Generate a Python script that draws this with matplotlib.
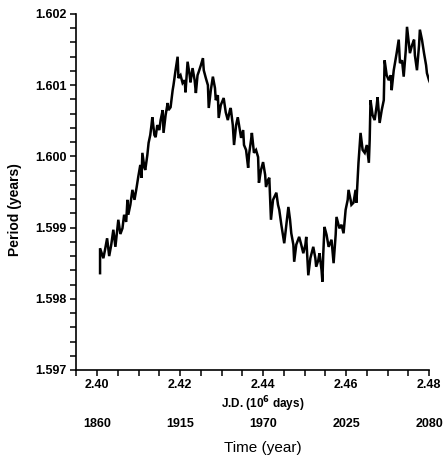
#!/usr/bin/env python3
"""Period of the orbit vs. Julian date, with calendar years underneath."""
import matplotlib
matplotlib.use("Agg")
import matplotlib.pyplot as plt
import matplotlib.transforms as mtransforms
from matplotlib.ticker import MultipleLocator

# (J.D. in 10^6 days, period in years)
jd = [
    2.4007, 2.4007, 2.4015, 2.4019, 2.4024, 2.4029, 2.4034, 2.4039, 2.4044, 2.4048,
    2.4051, 2.4056, 2.4061, 2.4065, 2.4070, 2.4073, 2.4075, 2.4080, 2.4085, 2.4090,
    2.4095, 2.4099, 2.4104, 2.4107, 2.4109, 2.4114, 2.4116, 2.4121, 2.4124, 2.4128,
    2.4131, 2.4133, 2.4138, 2.4141, 2.4145, 2.4150, 2.4153, 2.4158, 2.4160, 2.4165,
    2.4170, 2.4172, 2.4177,
    2.4182, 2.4184, 2.4189, 2.4194, 2.4196, 2.4201, 2.4206, 2.4211, 2.4213, 2.4218,
    2.4223, 2.4225, 2.4230, 2.4235, 2.4238, 2.4242, 2.4245, 2.4250, 2.4255, 2.4257,
    2.4262, 2.4267, 2.4269, 2.4274, 2.4279, 2.4284, 2.4286, 2.4291, 2.4293, 2.4298,
    2.4305, 2.4310, 2.4315, 2.4320, 2.4322, 2.4327, 2.4330, 2.4335, 2.4339, 2.4344,
    2.4347, 2.4352, 2.4354, 2.4359, 2.4364, 2.4366,
    2.4371, 2.4373, 2.4378, 2.4383, 2.4388, 2.4390, 2.4395, 2.4400, 2.4405, 2.4407,
    2.4412, 2.4415, 2.4419, 2.4424, 2.4432, 2.4436, 2.4439, 2.4444, 2.4451, 2.4456,
    2.4461, 2.4465, 2.4468, 2.4473, 2.4475, 2.4480, 2.4487, 2.4492, 2.4497, 2.4502,
    2.4504, 2.4509, 2.4514, 2.4521, 2.4526, 2.4528, 2.4533, 2.4536, 2.4541, 2.4543,
    2.4545, 2.4548, 2.4553, 2.4558, 2.4565, 2.4570, 2.4575, 2.4577, 2.4584, 2.4589,
    2.4594, 2.4599, 2.4604, 2.4606, 2.4611, 2.4613, 2.4618, 2.4623, 2.4625, 2.4630,
    2.4635, 2.4640, 2.4645, 2.4650, 2.4655, 2.4657, 2.4659, 2.4664, 2.4669, 2.4674,
    2.4676, 2.4681, 2.4686, 2.4691, 2.4693, 2.4698, 2.4703, 2.4708, 2.4710, 2.4715,
    2.4718, 2.4722, 2.4727, 2.4730, 2.4735, 2.4739, 2.4744, 2.4747, 2.4752, 2.4754,
    2.4759, 2.4764, 2.4766, 2.4771, 2.4776, 2.4778, 2.4783, 2.4788, 2.4793, 2.4795,
    2.4800, 2.4805, 2.4807,
]
period = [
    1.59836, 1.59871, 1.59857, 1.59869, 1.59885, 1.59860, 1.59876, 1.59897, 1.59873, 1.59894,
    1.59911, 1.59891, 1.59899, 1.59918, 1.59908, 1.59939, 1.59918, 1.59932, 1.59953, 1.59939,
    1.59956, 1.59971, 1.59988, 1.59970, 1.60005, 1.59984, 1.59981, 1.60002, 1.60019, 1.60030,
    1.60044, 1.60055, 1.60030, 1.60027, 1.60044, 1.60037, 1.60051, 1.60065, 1.60033, 1.60058,
    1.60075, 1.60065, 1.60069,
    1.60093, 1.60100, 1.60121, 1.60140, 1.60110, 1.60114, 1.60103, 1.60107, 1.60090, 1.60133,
    1.60114, 1.60104, 1.60124, 1.60107, 1.60089, 1.60114, 1.60119, 1.60128, 1.60138, 1.60121,
    1.60110, 1.60100, 1.60068, 1.60093, 1.60112, 1.60096, 1.60079, 1.60086, 1.60054, 1.60072,
    1.60082, 1.60062, 1.60051, 1.60065, 1.60068, 1.60044, 1.60016, 1.60044, 1.60055, 1.60037,
    1.60026, 1.60037, 1.60016, 1.60009, 1.59984, 1.60002,
    1.60023, 1.60033, 1.60005, 1.60009, 1.59999, 1.59963, 1.59981, 1.59992, 1.59974, 1.59957,
    1.59967, 1.59970, 1.59911, 1.59939, 1.59949, 1.59932, 1.59925, 1.59904, 1.59878, 1.59904,
    1.59929, 1.59911, 1.59892, 1.59876, 1.59852, 1.59876, 1.59887, 1.59876, 1.59864, 1.59876,
    1.59887, 1.59833, 1.59857, 1.59873, 1.59857, 1.59845, 1.59854, 1.59864, 1.59840, 1.59824,
    1.59862, 1.59901, 1.59890, 1.59873, 1.59883, 1.59850, 1.59890, 1.59915, 1.59899, 1.59904,
    1.59892, 1.59925, 1.59939, 1.59953, 1.59939, 1.59932, 1.59935, 1.59953, 1.59935, 1.59991,
    1.60033, 1.60009, 1.60005, 1.60016, 1.59991, 1.60023, 1.60079, 1.60058, 1.60051, 1.60072,
    1.60083, 1.60047, 1.60065, 1.60079, 1.60135, 1.60114, 1.60107, 1.60114, 1.60093, 1.60121,
    1.60131, 1.60145, 1.60164, 1.60131, 1.60135, 1.60112, 1.60149, 1.60182, 1.60156, 1.60145,
    1.60156, 1.60164, 1.60142, 1.60121, 1.60156, 1.60178, 1.60164, 1.60145, 1.60128, 1.60117,
    1.60107, 1.60100, 1.60083,
]

jd_ticks = [2.40, 2.42, 2.44, 2.46, 2.48]
jd_labels = ["2.40", "2.42", "2.44", "2.46", "2.48"]
year_labels = ["1860", "1915", "1970", "2025", "2080"]
period_ticks = [1.597, 1.598, 1.599, 1.600, 1.601, 1.602]

plt.rcParams["font.family"] = ["Liberation Sans", "DejaVu Sans"]

fig = plt.figure(figsize=(4.43, 4.57), dpi=100)
ax = fig.add_axes([76 / 443, 87 / 457, 353 / 443, 356 / 457])

ax.plot(jd, period, color="black", linewidth=1.8, solid_joinstyle="miter")

ax.set_xlim(2.3949, 2.48)
ax.set_ylim(1.597, 1.602)

ax.spines["top"].set_visible(False)
ax.spines["right"].set_visible(False)
for side in ("left", "bottom"):
    ax.spines[side].set_linewidth(1.2)

ax.set_xticks(jd_ticks)
ax.set_xticklabels(jd_labels)
ax.xaxis.set_minor_locator(MultipleLocator(0.005))
ax.set_yticks(period_ticks)
ax.set_yticklabels([f"{t:.3f}" for t in period_ticks])
ax.yaxis.set_minor_locator(MultipleLocator(0.0002))

ax.tick_params(which="both", direction="out", width=1.1, color="black")
ax.tick_params(which="major", length=4.5, labelsize=9, pad=2)
ax.tick_params(which="minor", length=4)
for lab in ax.get_xticklabels() + ax.get_yticklabels():
    lab.set_fontweight("bold")

# second row of labels: calendar years under the J.D. values
trans = mtransforms.blended_transform_factory(ax.transData, ax.transAxes)
for x, yr in zip(jd_ticks, year_labels):
    ax.text(x, -54 / 356, yr, transform=trans, ha="center", va="center",
            fontsize=9, fontweight="bold")

ax.text(0.53, -34 / 356, "J.D. (10$^{\\mathbf{6}}$ days)", transform=ax.transAxes,
        ha="center", va="center", fontsize=8.5, fontweight="bold")
ax.text(0.53, -78 / 356, "Time (year)", transform=ax.transAxes,
        ha="center", va="center", fontsize=11)
fig.text(15 / 443, 1 - 210 / 457, "Period (years)", rotation=90,
         ha="center", va="center", fontsize=10, fontweight="bold")

fig.savefig("out.png", dpi=100)
